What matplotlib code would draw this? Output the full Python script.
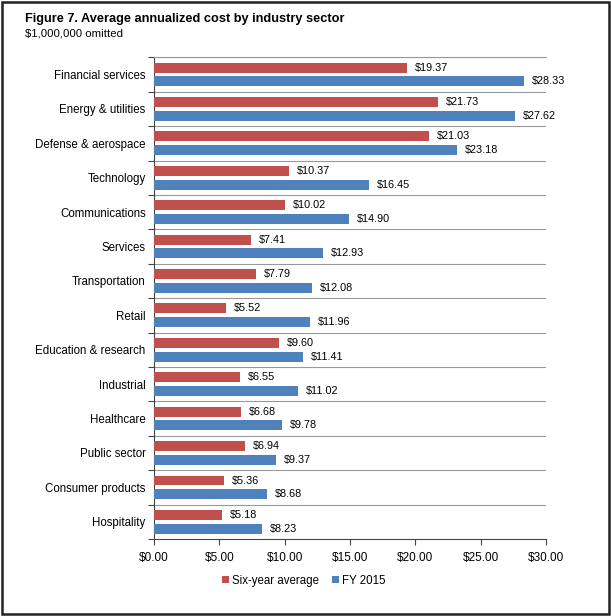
import numpy as np
import matplotlib.pyplot as plt
from matplotlib.patches import Rectangle

plt.rcParams['font.family'] = ['Liberation Sans', 'DejaVu Sans']

sectors = ['Financial services', 'Energy & utilities', 'Defense & aerospace', 'Technology',
           'Communications', 'Services', 'Transportation', 'Retail', 'Education & research',
           'Industrial', 'Healthcare', 'Public sector', 'Consumer products', 'Hospitality']
six_year = [19.37, 21.73, 21.03, 10.37, 10.02, 7.41, 7.79, 5.52, 9.60, 6.55, 6.68, 6.94, 5.36, 5.18]
fy2015 = [28.33, 27.62, 23.18, 16.45, 14.90, 12.93, 12.08, 11.96, 11.41, 11.02, 9.78, 9.37, 8.68, 8.23]
xticks = [0, 5, 10, 15, 20, 25, 30]

red = '#C0504D'
blue = '#4F81BD'

fig = plt.figure(figsize=(6.11, 6.16), dpi=100)
ax = fig.add_axes([0.252, 0.125, 0.6416, 0.782])

n = len(sectors)
y = np.arange(n)[::-1].astype(float)
h = 0.29
b1 = ax.barh(y + 0.2, six_year, height=h, color=red, label='Six-year average', zorder=3)
b2 = ax.barh(y - 0.2, fy2015, height=h, color=blue, label='FY 2015', zorder=3)

for v, yy in zip(six_year, y + 0.2):
    ax.text(v + 0.6, yy, f'${v:.2f}', va='center', ha='left', fontsize=7.8)
for v, yy in zip(fy2015, y - 0.2):
    ax.text(v + 0.6, yy, f'${v:.2f}', va='center', ha='left', fontsize=7.8)

ax.set_xlim(0, 30)
ax.set_ylim(-0.5, n - 0.5)
ax.set_xticks(xticks)
ax.set_xticklabels([f'${t:.2f}' for t in xticks], fontsize=8.5)
ax.set_yticks(y)
ax.set_yticklabels(sectors, fontsize=8.3)
ax.tick_params(axis='y', length=0, pad=6)
ax.tick_params(axis='x', length=4, direction='out', color='#444444', width=0.8, pad=5)

# separators between categories
bounds = np.arange(n + 1) - 0.5
for bb in bounds[1:]:
    ax.axhline(bb, color='#999999', lw=0.8, zorder=1)
ax.set_yticks(bounds, minor=True)
ax.tick_params(axis='y', which='minor', length=4, direction='out', color='#444444', width=0.8)

ax.spines['right'].set_visible(False)
ax.spines['top'].set_color('#999999')
ax.spines['top'].set_linewidth(0.8)
ax.spines['left'].set_color('#444444')
ax.spines['bottom'].set_color('#444444')

fig.text(0.041, 0.969, 'Figure 7. Average annualized cost by industry sector', fontsize=9.2,
         fontweight='bold', va='center')
fig.text(0.041, 0.946, '$1,000,000 omitted', fontsize=8.2, va='center')

fig.legend(handles=[b1, b2], loc='center', bbox_to_anchor=(0.497, 0.057), ncol=2,
           frameon=False, fontsize=8.3, handlelength=0.55, handleheight=0.55,
           handletextpad=0.25, columnspacing=1.2)

fig.patches.append(Rectangle((0.004, 0.004), 0.992, 0.992, transform=fig.transFigure,
                             fill=False, edgecolor='#222222', lw=1.8))

fig.savefig('out.png', dpi=100)
